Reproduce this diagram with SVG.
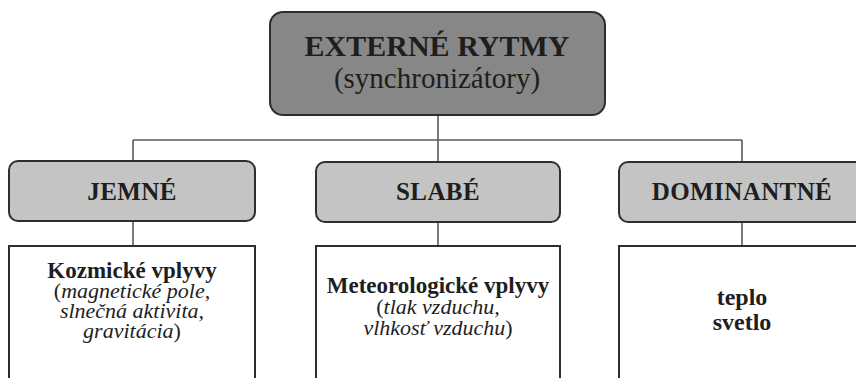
<svg xmlns="http://www.w3.org/2000/svg" width="856" height="378" viewBox="0 0 856 378">
<style>
.bg{fill:#ffffff}
.top{fill:#878787;stroke:#2e2e2e;stroke-width:2}
.cat{fill:#c4c4c4;stroke:#2e2e2e;stroke-width:2}
.box{fill:#ffffff;stroke:#2e2e2e;stroke-width:2}
.ln{stroke:#5a5a5a;stroke-width:1.6;fill:none}
text{font-family:"Liberation Serif","Times New Roman",serif;fill:#1e1e1e;text-anchor:middle}
.b{font-weight:bold}
.i{font-style:italic}
.c{font-size:25px;letter-spacing:0.4px}
</style>
<rect class="bg" x="0" y="0" width="856" height="378"/>
<g id="connectors">
<path class="ln" d="M438 115 V162"/>
<path class="ln" d="M133 140 H742"/>
<path class="ln" d="M133 140 V161"/>
<path class="ln" d="M742 140 V162"/>
<path class="ln" d="M133 221 V246"/>
<path class="ln" d="M438 222 V246"/>
<path class="ln" d="M742 222 V246"/>
</g>
<g id="root">
<rect class="top" x="270" y="12" width="335" height="103" rx="13"/>
<text class="b" x="437" y="56" font-size="30">EXTERNÉ RYTMY</text>
<text x="437" y="88" font-size="29">(synchronizátory)</text>
</g>
<g id="jemne">
<rect class="cat" x="9" y="161" width="246" height="60" rx="9"/>
<text class="b c" x="132" y="200">JEMNÉ</text>
</g>
<g id="slabe">
<rect class="cat" x="316" y="162" width="244" height="60" rx="9"/>
<text class="b c" x="438" y="200">SLABÉ</text>
</g>
<g id="dominantne">
<rect class="cat" x="619" y="162" width="246" height="60" rx="9"/>
<text class="b c" x="742" y="200">DOMINANTNÉ</text>
</g>
<g id="kozmicke">
<rect class="box" x="9" y="246" width="246" height="150"/>
<text class="b" x="132" y="278" font-size="23">Kozmické vplyvy</text>
<text x="132" y="298" font-size="22">(<tspan class="i">magnetické pole,</tspan></text>
<text class="i" x="132" y="318" font-size="22">slnečná aktivita,</text>
<text x="132" y="338" font-size="22"><tspan class="i">gravitácia</tspan>)</text>
</g>
<g id="meteorologicke">
<rect class="box" x="316" y="246" width="244" height="150"/>
<text class="b" x="438" y="293" font-size="23">Meteorologické vplyvy</text>
<text x="438" y="314" font-size="22">(<tspan class="i">tlak vzduchu,</tspan></text>
<text x="438" y="335" font-size="22"><tspan class="i">vlhkosť vzduchu</tspan>)</text>
</g>
<g id="teplo">
<rect class="box" x="619" y="246" width="246" height="150"/>
<text class="b" x="742" y="305" font-size="24">teplo</text>
<text class="b" x="742" y="330" font-size="24">svetlo</text>
</g>
</svg>
